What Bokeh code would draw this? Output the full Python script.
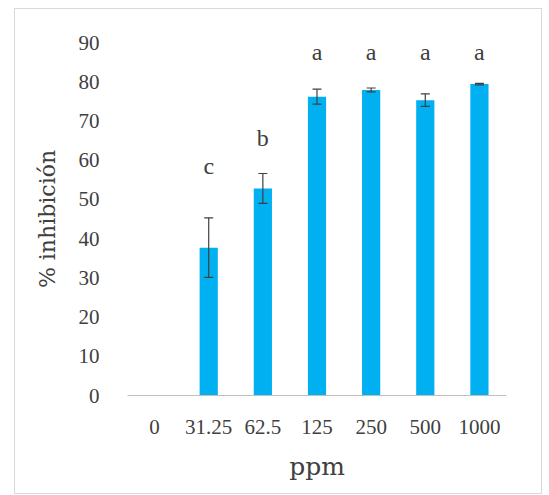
from bokeh.plotting import figure
from bokeh.models import (ColumnDataSource, FactorRange, Whisker, TeeHead,
                          SingleIntervalTicker)
from bokeh.core.properties import value
from bokeh.embed import file_html
from bokeh.resources import INLINE

# ---- data ----
categories = ["0", "31.25", "62.5", "125", "250", "500", "1000"]
inhibition = [0.0, 37.7, 52.8, 76.2, 77.9, 75.3, 79.4]
errors = [0.0, 7.6, 3.8, 1.9, 0.5, 1.6, 0.2]
letters = ["", "c", "b", "a", "a", "a", "a"]
letter_y = [0.0, 58.5, 65.6, 87.6, 87.6, 87.6, 87.6]

TEXT = "#404040"
BAR = "#00B0F0"

p = figure(x_range=FactorRange(factors=categories, range_padding=0),
           y_range=(0, 90),
           width=526, height=484,
           frame_width=379, frame_height=353,
           min_border_left=112, min_border_right=35,
           min_border_top=33, min_border_bottom=98,
           output_backend="svg", toolbar_location=None,
           background_fill_color="white", border_fill_color="white")
p.styles = {"border": "1px solid #D9D9D9", "margin-left": "14px",
            "margin-top": "8px"}
p.outline_line_color = None
p.xgrid.visible = False
p.ygrid.visible = False

src = ColumnDataSource(dict(cat=categories, val=inhibition))
p.vbar(x="cat", top="val", width=0.336, source=src,
       fill_color=BAR, line_color=None)

idx = [i for i, e in enumerate(errors) if e > 0]
wsrc = ColumnDataSource(dict(
    cat=[categories[i] for i in idx],
    upper=[inhibition[i] + errors[i] for i in idx],
    lower=[inhibition[i] - errors[i] for i in idx]))
w = Whisker(base="cat", upper="upper", lower="lower", source=wsrc,
            line_color=TEXT, line_width=1.2, level="overlay",
            upper_head=TeeHead(size=9, line_color=TEXT, line_width=1.2),
            lower_head=TeeHead(size=9, line_color=TEXT, line_width=1.2))
p.add_layout(w)

lidx = [i for i, t in enumerate(letters) if t]
lsrc = ColumnDataSource(dict(cat=[categories[i] for i in lidx],
                             y=[letter_y[i] for i in lidx],
                             t=[letters[i] for i in lidx]))
p.text(x="cat", y="y", text="t", source=lsrc, text_align="center",
       text_baseline="alphabetic", text_color=TEXT,
       text_font=value("Liberation Serif"), text_font_size="24px")

# y axis
p.yaxis.ticker = SingleIntervalTicker(interval=10)
p.yaxis.axis_line_color = None
p.yaxis.major_tick_line_color = None
p.yaxis.minor_tick_line_color = None
p.yaxis.major_label_standoff = 22
p.yaxis.major_label_text_font = "Liberation Serif"
p.yaxis.major_label_text_font_size = "21px"
p.yaxis.major_label_text_color = TEXT
p.yaxis.axis_label = "% inhibición"
p.yaxis.axis_label_text_font = "DejaVu Serif"
p.yaxis.axis_label_text_font_size = "22px"
p.yaxis.axis_label_text_font_style = "normal"
p.yaxis.axis_label_text_color = TEXT
p.yaxis.axis_label_standoff = 16

# x axis
p.xaxis.axis_line_color = "#BFBFBF"
p.xaxis.axis_line_width = 1
p.xaxis.major_tick_line_color = None
p.xaxis.minor_tick_line_color = None
p.xaxis.major_label_standoff = 18
p.xaxis.major_label_text_font = "Liberation Serif"
p.xaxis.major_label_text_font_size = "21px"
p.xaxis.major_label_text_color = TEXT
p.xaxis.axis_label = "ppm"
p.xaxis.axis_label_text_font = "DejaVu Serif"
p.xaxis.axis_label_text_font_size = "25px"
p.xaxis.axis_label_text_font_style = "normal"
p.xaxis.axis_label_text_color = TEXT
p.xaxis.axis_label_standoff = 15

open("out.html", "w").write(file_html(p, INLINE))
